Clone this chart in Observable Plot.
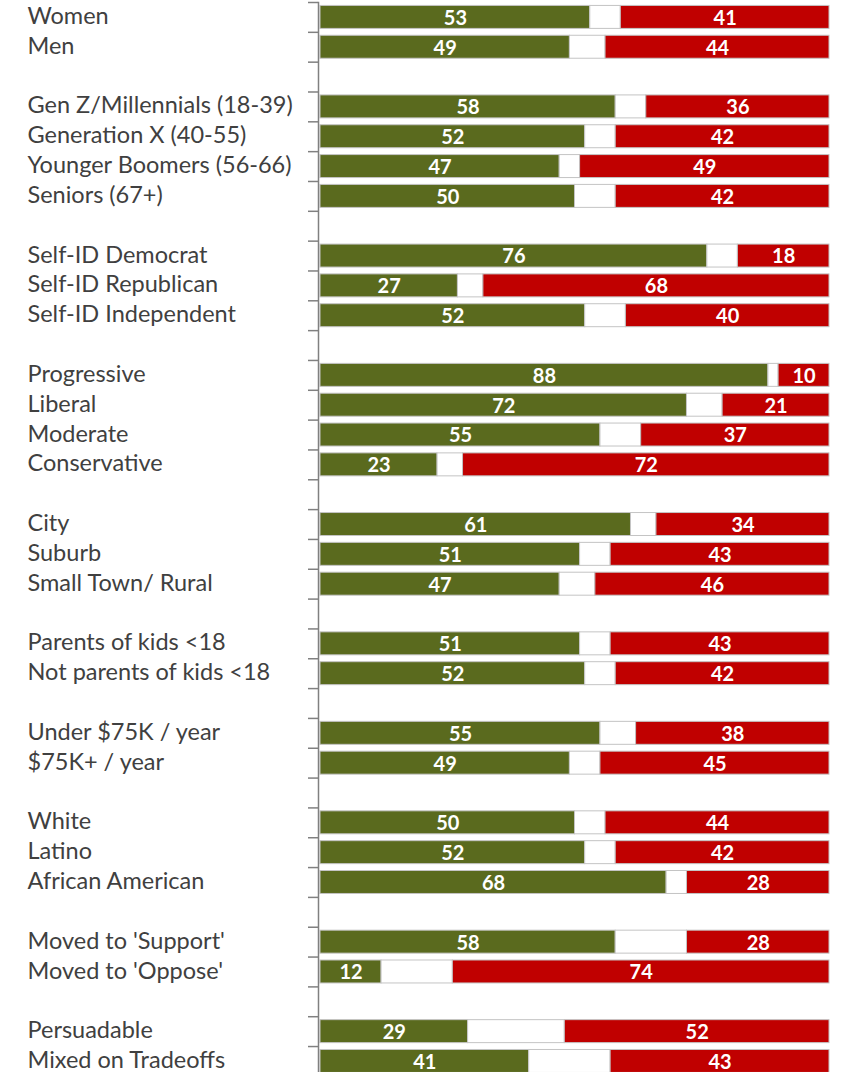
<!DOCTYPE html>
<html>
<head>
<meta charset="utf-8">
<script src="https://cdn.jsdelivr.net/npm/d3@7"></script>
<script src="https://cdn.jsdelivr.net/npm/@observablehq/plot@0.6"></script>
<style>
  html, body { margin: 0; padding: 0; background: #fff; overflow: hidden; }
</style>
</head>
<body>
<div id="chart"></div>
<script>
const categories = [
  "Women", "Men", "",
  "Gen Z/Millennials (18-39)", "Generation X (40-55)", "Younger Boomers (56-66)", "Seniors (67+)", "",
  "Self-ID Democrat", "Self-ID Republican", "Self-ID Independent", "",
  "Progressive", "Liberal", "Moderate", "Conservative", "",
  "City", "Suburb", "Small Town/ Rural", "",
  "Parents of kids <18", "Not parents of kids <18", "",
  "Under $75K / year", "$75K+ / year", "",
  "White", "Latino", "African American", "",
  "Moved to 'Support'", "Moved to 'Oppose'", "",
  "Persuadable", "Mixed on Tradeoffs"
];
const support = [
  53, 49, null,
  58, 52, 47, 50, null,
  76, 27, 52, null,
  88, 72, 55, 23, null,
  61, 51, 47, null,
  51, 52, null,
  55, 49, null,
  50, 52, 68, null,
  58, 12, null,
  29, 41
];
const oppose = [
  41, 44, null,
  36, 42, 49, 42, null,
  18, 68, 40, null,
  10, 21, 37, 72, null,
  34, 43, 46, null,
  43, 42, null,
  38, 45, null,
  44, 42, 28, null,
  28, 74, null,
  52, 43
];

const rows = categories.map((label, i) => ({i, label, support: support[i], oppose: oppose[i]}));
const bars = rows.filter(d => d.support != null);
const boundaries = d3.range(categories.length).map(i => i - 0.5);
const half = 0.385;

const green = "#5a6a1e";
const red = "#c00000";
const edge = "#c4c4c4";

const chart = Plot.plot({
  width: 846,
  height: 1072,
  marginTop: 2,
  marginBottom: 0,
  marginLeft: 318,
  marginRight: 17,
  style: {fontFamily: "Lato, 'Open Sans', sans-serif", background: "#fff"},
  x: {domain: [0, 100], insetLeft: 2, axis: null},
  y: {domain: [-0.5, 35.37], reverse: true, axis: null},
  marks: [
    Plot.rect(bars, {x1: 0, x2: "support", y1: d => d.i - half, y2: d => d.i + half, fill: green, stroke: edge, strokeWidth: 1}),
    Plot.rect(bars, {x1: "support", x2: d => 100 - d.oppose, y1: d => d.i - half, y2: d => d.i + half, fill: "#fff", stroke: edge, strokeWidth: 1}),
    Plot.rect(bars, {x1: d => 100 - d.oppose, x2: 100, y1: d => d.i - half, y2: d => d.i + half, fill: red, stroke: edge, strokeWidth: 1}),
    Plot.text(bars, {x: d => d.support / 2, y: "i", text: "support", fill: "#fff", fontWeight: "bold", fontSize: 20, dy: 1}),
    Plot.text(bars, {x: d => 100 - d.oppose / 2, y: "i", text: "oppose", fill: "#fff", fontWeight: "bold", fontSize: 20, dy: 1}),
    Plot.text(rows.filter(d => d.label), {y: "i", text: "label", frameAnchor: "left", textAnchor: "start", dx: -291, dy: -1, fill: "#404040", fontSize: 23.5}),
    Plot.axisY({ticks: boundaries, tickSize: 10, tickFormat: () => "", label: null, stroke: "#808080", strokeWidth: 1.5}),
    Plot.frame({anchor: "left", stroke: "#808080", strokeWidth: 1.5})
  ]
});
document.getElementById("chart").appendChild(chart);
</script>
</body>
</html>
